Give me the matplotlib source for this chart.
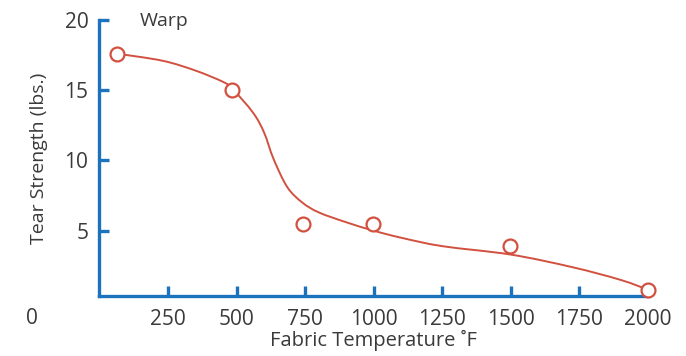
import matplotlib
matplotlib.use("Agg")
import matplotlib.pyplot as plt
from matplotlib.path import Path
from matplotlib.patches import PathPatch

plt.rcParams['font.family'] = ['Open Sans', 'DejaVu Sans']

# measured points
temp_pts = [65, 485, 742, 997, 1496, 2000]
tear_pts = [17.6, 15.0, 5.5, 5.5, 3.9, 0.8]

# smooth fitted curve
curve_x = [65, 230, 350, 450, 485, 560, 600, 635, 685, 740, 800, 900,
           1000, 1100, 1250, 1500, 1725, 1900, 2000]
curve_y = [17.6, 17.1, 16.4, 15.6, 15.1, 13.4, 12.0, 10.1, 8.1, 7.0, 6.3,
           5.6, 5.0, 4.5, 3.9, 3.3, 2.4, 1.5, 0.8]

x_ticks = [250, 500, 750, 1000, 1250, 1500, 1750, 2000]
y_ticks = [5, 10, 15, 20]

blue = "#1c72bd"
red = "#d2503f"
txt = "#3a3a3a"

fig = plt.figure(figsize=(6.86, 3.56), dpi=100)
ax = fig.add_axes([0.145, 0.1685, 0.7995, 0.7753])
ax.set_xlim(0, 2000)
ax.set_ylim(0.35, 20)

# smooth curve through the read points (Catmull-Rom as cubic Bezier, in display space)
pts = ax.transData.transform(list(zip(curve_x, curve_y)))
verts = [tuple(pts[0])]
codes = [Path.MOVETO]
n = len(pts)
for i in range(n - 1):
    p0 = pts[i - 1] if i > 0 else pts[i]
    p1 = pts[i]
    p2 = pts[i + 1]
    p3 = pts[i + 2] if i + 2 < n else pts[i + 1]
    c1 = p1 + (p2 - p0) / 6.0
    c2 = p2 - (p3 - p1) / 6.0
    verts += [tuple(c1), tuple(c2), tuple(p2)]
    codes += [Path.CURVE4] * 3
inv = ax.transData.inverted()
verts = [tuple(v) for v in inv.transform(verts)]
ax.add_patch(PathPatch(Path(verts, codes), fill=False, edgecolor=red, lw=1.4,
                       zorder=3, clip_on=False, transform=ax.transData))

ax.plot(temp_pts, tear_pts, 'o', ms=10, mfc='white', mec=red, mew=1.6,
        zorder=4, clip_on=False, linestyle='none')

for s in ['top', 'right']:
    ax.spines[s].set_visible(False)
for s in ['left', 'bottom']:
    ax.spines[s].set_color(blue)
    ax.spines[s].set_linewidth(2.4)
    ax.spines[s].set_capstyle('projecting')

ax.set_xticks(x_ticks)
ax.set_yticks(y_ticks)
ax.tick_params(axis='both', direction='in', length=7, width=2.4, color=blue,
               labelsize=15, labelcolor=txt)
ax.tick_params(axis='x', pad=9)
ax.tick_params(axis='y', pad=8)

ax.text(-0.123, -0.08, "0", transform=ax.transAxes, ha='center', va='center',
        fontsize=15, color=txt)
ax.text(0.074, 0.995, "Warp", transform=ax.transAxes, ha='left', va='center',
        fontsize=14, color=txt)

ax.set_xlabel("Fabric Temperature \u02daF", fontsize=14.5, color=txt, labelpad=0)
ax.set_ylabel("Tear Strength (lbs.)", fontsize=14, color=txt, labelpad=12)

fig.savefig("out.png", dpi=100)
